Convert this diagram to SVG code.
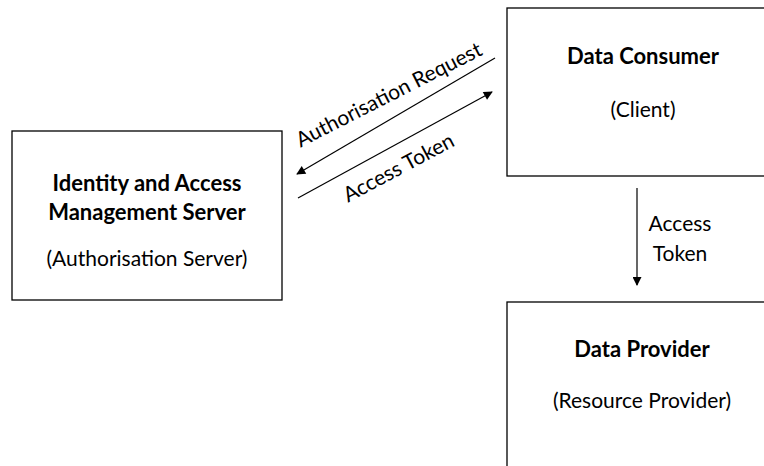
<svg xmlns="http://www.w3.org/2000/svg" width="764" height="466" viewBox="0 0 764 466">
<style>
  .box { fill: #ffffff; stroke: #000000; stroke-width: 1.3; }
  .t { font-family: Lato, "Open Sans", "Liberation Sans", sans-serif; font-size: 21px; fill: #000000; text-anchor: middle; }
  .b { font-weight: bold; font-size: 22px; }
  .ln { stroke: #000000; stroke-width: 1.2; fill: none; marker-end: url(#ah); }
</style>
<defs>
  <marker id="ah" viewBox="0 0 10 10" refX="9" refY="5" markerWidth="10" markerHeight="9" markerUnits="userSpaceOnUse" orient="auto">
    <path d="M0,0 L10,5 L0,10 z" fill="#000000"/>
  </marker>
</defs>
<rect width="764" height="466" fill="#ffffff"/>
<g id="iam-server">
  <rect class="box" x="12" y="131" width="270" height="169"/>
  <text class="t b" x="147" y="191">Identity and Access</text>
  <text class="t b" x="147" y="220">Management Server</text>
  <text class="t" x="147" y="266">(Authorisation Server)</text>
</g>
<g id="data-consumer">
  <rect class="box" x="507" y="8" width="280" height="168"/>
  <text class="t b" x="643" y="64">Data Consumer</text>
  <text class="t" x="643" y="117">(Client)</text>
</g>
<g id="data-provider">
  <rect class="box" x="507" y="302" width="280" height="180"/>
  <text class="t b" x="642" y="357">Data Provider</text>
  <text class="t" x="642" y="408">(Resource Provider)</text>
</g>
<g id="connectors">
  <line class="ln" x1="495" y1="58" x2="297" y2="174"/>
  <line class="ln" x1="298" y1="198" x2="492" y2="92"/>
  <line class="ln" x1="637" y1="188" x2="637" y2="285"/>
  <text class="t" transform="translate(392,101) rotate(-27)">Authorisation Request</text>
  <text class="t" transform="translate(402,174) rotate(-28)">Access Token</text>
  <text class="t" x="680" y="231">Access</text>
  <text class="t" x="680" y="261">Token</text>
</g>
</svg>
